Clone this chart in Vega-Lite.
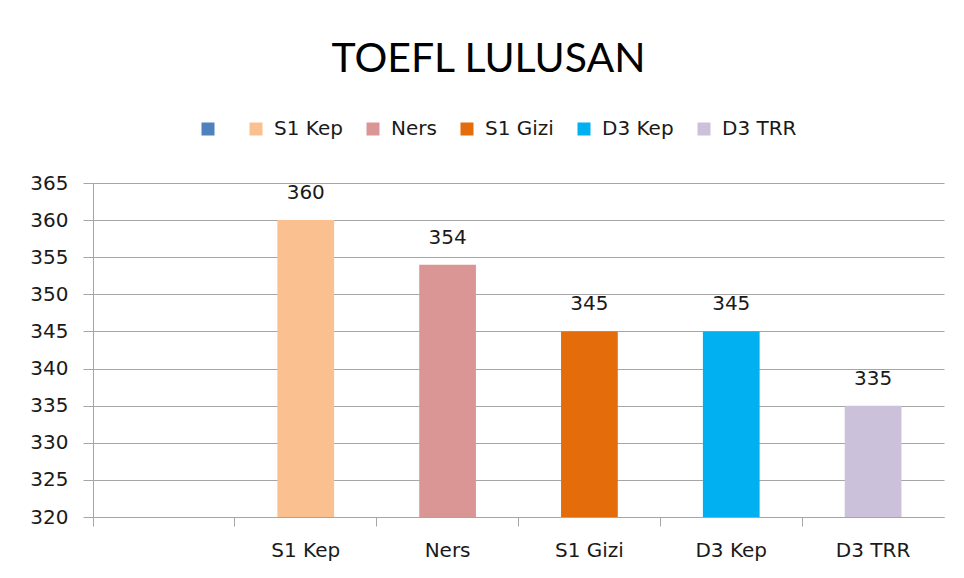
{
  "$schema": "https://vega.github.io/schema/vega-lite/v6.json",
  "width": 851,
  "height": 334,
  "autosize": "none",
  "padding": {"left": 93, "top": 183, "right": 20, "bottom": 61},
  "background": "white",
  "title": {
    "text": "TOEFL LULUSAN",
    "font": "Lato",
    "fontSize": 41,
    "fontWeight": "normal",
    "color": "black",
    "anchor": "middle",
    "frame": "group",
    "dx": -30,
    "offset": 38
  },
  "data": {
    "values": [
      {"prodi": "S1 Kep", "toefl": 360},
      {"prodi": "Ners", "toefl": 354},
      {"prodi": "S1 Gizi", "toefl": 345},
      {"prodi": "D3 Kep", "toefl": 345},
      {"prodi": "D3 TRR", "toefl": 335}
    ]
  },
  "encoding": {
    "x": {
      "field": "prodi",
      "type": "nominal",
      "title": null,
      "scale": {"domain": [" ", "S1 Kep", "Ners", "S1 Gizi", "D3 Kep", "D3 TRR"], "paddingInner": 0, "paddingOuter": 0},
      "axis": {
        "labelAngle": 0,
        "bandPosition": 0,
        "tickSize": 9,
        "tickColor": "#a6a6a6",
        "domainColor": "#a6a6a6",
        "labelPadding": 14,
        "labelFont": "DejaVu Sans",
        "labelFontSize": 20,
        "labelColor": "#1a1a1a",
        "grid": false
      }
    },
    "y": {
      "field": "toefl",
      "type": "quantitative",
      "title": null,
      "scale": {"domain": [320, 365], "nice": false, "zero": false},
      "axis": {
        "values": [320, 325, 330, 335, 340, 345, 350, 355, 360, 365],
        "tickSize": 10,
        "tickColor": "#a6a6a6",
        "domainColor": "#a6a6a6",
        "gridColor": "#a6a6a6",
        "grid": true,
        "labelPadding": 15,
        "labelFont": "DejaVu Sans",
        "labelFontSize": 20,
        "labelColor": "#1a1a1a"
      }
    }
  },
  "layer": [
    {
      "mark": {"type": "bar", "width": {"band": 0.4}, "clip": true},
      "encoding": {
        "color": {
          "field": "prodi",
          "type": "nominal",
          "scale": {
            "domain": [" ", "S1 Kep", "Ners", "S1 Gizi", "D3 Kep", "D3 TRR"],
            "range": ["#4F81BD", "#FAC090", "#D99694", "#E46C0A", "#00B0F0", "#CCC1DA"]
          },
          "legend": {
            "title": null,
            "orient": "none",
            "direction": "horizontal",
            "legendX": 105,
            "legendY": -64,
            "symbolType": "square",
            "symbolSize": 169,
            "symbolStrokeWidth": 0,
            "labelFont": "DejaVu Sans",
            "labelFontSize": 20,
            "labelColor": "#1a1a1a",
            "labelOffset": 8,
            "labelExpr": "datum.label == ' ' ? '' : datum.label",
            "columnPadding": 20
          }
        }
      }
    },
    {
      "mark": {"type": "text", "dy": -27, "font": "DejaVu Sans", "fontSize": 20, "color": "#1a1a1a"},
      "encoding": {"text": {"field": "toefl", "type": "quantitative"}}
    }
  ],
  "config": {"view": {"stroke": null}}
}
